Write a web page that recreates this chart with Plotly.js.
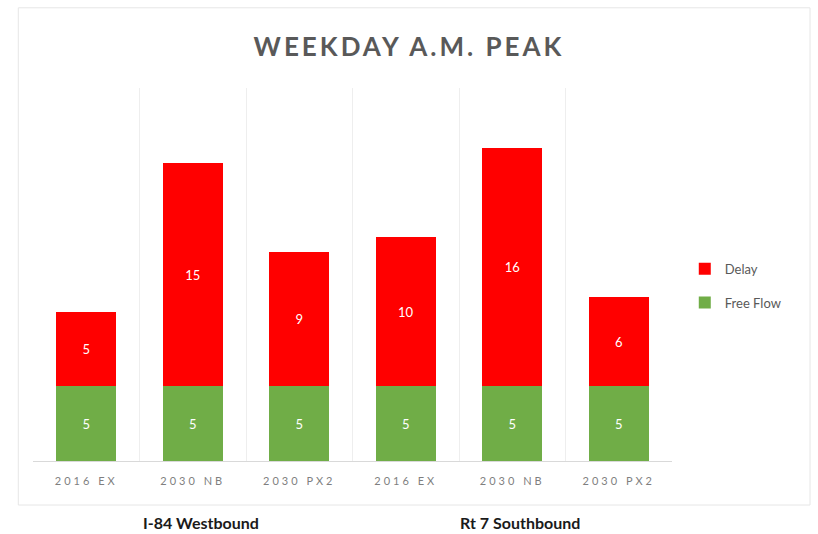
<!DOCTYPE html>
<html>
<head>
<meta charset="utf-8">
<script src="https://cdn.plot.ly/plotly-3.0.1.min.js"></script>
<style>
html,body{margin:0;padding:0;background:#fff;}
#chart .xtick text{letter-spacing:3px;}
#chart .gtitle{letter-spacing:3px;}
</style>
</head>
<body>
<div id="chart" style="width:818px;height:534px;"></div>
<script>
const positions = [0, 1, 2, 3, 4, 5];
const tickLabels = ["2016 EX", "2030 NB", "2030 PX2", "2016 EX", "2030 NB", "2030 PX2"];
const freeFlow = [5, 5, 5, 5, 5, 5];
const delay = [5, 15, 9, 10, 16, 6];
const groupLabels = ["I-84 Westbound", "Rt 7 Southbound"];
const groupCenters = [1, 4];
const boundaries = [-0.5, 0.5, 1.5, 2.5, 3.5, 4.5, 5.5];

const font = "Lato, 'Open Sans', sans-serif";

const traces = [
  {
    type: "bar", name: "Free Flow", legendgroup: "ff", legendrank: 2, x: positions, y: freeFlow,
    marker: {color: "#70AD47"}, width: 0.56,
    text: freeFlow.map(String), textposition: "inside", insidetextanchor: "middle",
    textfont: {color: "#ffffff", size: 13, family: font}, hoverinfo: "y+name"
  },
  {
    type: "bar", name: "Delay", legendgroup: "d", legendrank: 1, x: positions, y: delay,
    marker: {color: "#FF0000"}, width: 0.56,
    text: delay.map(String), textposition: "inside", insidetextanchor: "middle",
    textfont: {color: "#ffffff", size: 13, family: font}, hoverinfo: "y+name"
  }
];

const layout = {
  width: 818, height: 534,
  margin: {l: 33, r: 146, t: 88, b: 73},
  paper_bgcolor: "#ffffff", plot_bgcolor: "#ffffff",
  barmode: "stack",
  font: {family: font, color: "#595959"},
  title: {
    text: "<b>WEEKDAY A.M. PEAK</b>",
    font: {size: 26, color: "#595959", family: font},
    x: 0.5, xanchor: "center", y: 1 - 47/534, yanchor: "middle", yref: "container"
  },
  xaxis: {
    range: [-0.5, 5.5],
    tickmode: "array", tickvals: positions, ticktext: tickLabels,
    tickfont: {size: 11, color: "#7f7f7f", family: font},
    showgrid: false, zeroline: false,
    showline: true, linecolor: "#d9d9d9", linewidth: 1,
    ticks: "", ticklabelstandoff: 10,
    minor: {tickmode: "array", tickvals: boundaries, showgrid: true, gridcolor: "#eeeeee", gridwidth: 1, ticks: ""},
    fixedrange: true
  },
  yaxis: {
    range: [0, 25], visible: false, showgrid: false, zeroline: false, fixedrange: true
  },
  legend: {
    x: 1.02, xanchor: "left", y: 0.47, yanchor: "middle",
    font: {size: 13, color: "#595959", family: font},
    traceorder: "grouped", tracegroupgap: 14, itemwidth: 30
  },
  annotations: groupLabels.map((t, i) => ({
    text: "<b>" + t + "</b>", x: groupCenters[i], xref: "x", y: -0.164, yref: "paper",
    xanchor: "center", yanchor: "middle", showarrow: false, xshift: 8,
    font: {size: 16, color: "#1a1a1a", family: font}
  })),
  shapes: [
    {type: "rect", xref: "paper", yref: "paper", x0: -0.023, x1: 1.216, y0: -0.118, y1: 1.215,
     line: {color: "#e6e6e6", width: 1}, fillcolor: "rgba(0,0,0,0)", layer: "below"}
  ],
  showlegend: true
};

Plotly.newPlot("chart", traces, layout, {displayModeBar: false, staticPlot: true});
</script>
</body>
</html>
